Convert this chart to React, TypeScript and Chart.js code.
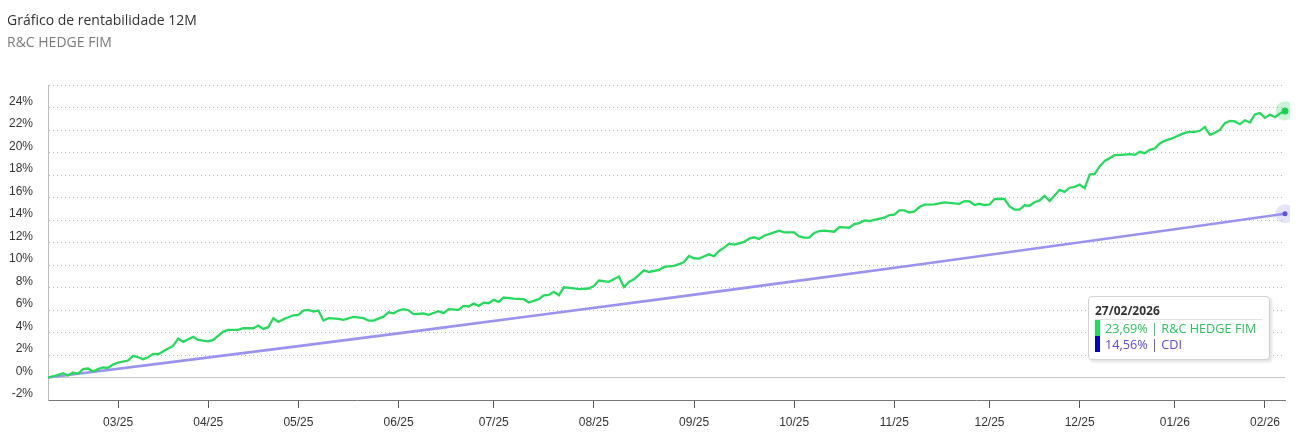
import React, { useEffect, useRef } from 'react';
import { Chart, registerables } from 'chart.js';

Chart.register(...registerables);

const chartTitle = 'Gráfico de rentabilidade 12M';
const fundName = 'R&C HEDGE FIM';
const benchName = 'CDI';
const lastDate = '27/02/2026';

// trading-day index (0 = 27/02/2025) and cumulative return in %
const fundDays = [
  0, 1, 3, 4, 5, 6, 7, 8, 9, 10,
  11, 12, 13, 14, 16, 17, 18, 19, 20, 21,
  22, 24, 25, 26, 27, 28, 29, 30, 32, 33,
  35, 36, 38, 39, 41, 42, 43, 44, 45, 46,
  47, 49, 50, 51, 52, 53, 54, 55, 56, 58,
  59, 61, 63, 64, 65, 67, 68, 69, 70, 71,
  72, 73, 75, 76, 78, 79, 80, 82, 83, 84,
  85, 86, 87, 88, 89, 90, 91, 93, 95, 96,
  98, 99, 100, 101, 102, 103, 105, 106, 108, 109,
  110, 112, 114, 115, 116, 117, 119, 120, 122, 123,
  125, 126, 127, 128, 129, 130, 132, 133, 134, 135,
  136, 137, 138, 139, 140, 141, 142, 143, 145, 146,
  147, 149, 150, 151, 152, 153, 154, 155, 157, 158,
  159, 160, 161, 162, 163, 164, 165, 167, 168, 169,
  170, 171, 172, 173, 174, 175, 177, 179, 181, 182,
  183, 184, 185, 186, 187, 188, 189, 190, 191, 192,
  193, 194, 195, 196, 197, 198, 199, 200, 201, 202,
  203, 204, 205, 206, 207, 208, 209, 210, 211, 212,
  213, 214, 215, 216, 217, 218, 219, 220, 221, 222,
  223, 224, 225, 226, 227, 228, 229, 230, 231, 232,
  233, 234, 235, 236, 237, 238, 239, 240, 241, 242,
  243, 244, 245, 246, 247,
];
const fundPct = [
  0, 0.09, 0.38, 0.18, 0.44, 0.33, 0.74, 0.80, 0.53, 0.74,
  0.89, 0.86, 1.15, 1.33, 1.51, 1.92, 1.80, 1.63, 1.80, 2.10,
  2.07, 2.57, 2.81, 3.46, 3.17, 3.40, 3.61, 3.34, 3.22, 3.34,
  4.08, 4.23, 4.23, 4.38, 4.38, 4.62, 4.32, 4.47, 5.27, 4.94,
  5.18, 5.53, 5.56, 5.95, 6.01, 5.86, 5.95, 5.06, 5.27, 5.21,
  5.12, 5.38, 5.27, 5.06, 5.06, 5.41, 5.80, 5.71, 5.95, 6.07,
  5.98, 5.63, 5.69, 5.57, 5.89, 5.72, 6.07, 6.01, 6.37, 6.31,
  6.57, 6.37, 6.66, 6.60, 6.90, 6.72, 7.11, 7.02, 6.96, 6.66,
  6.96, 7.31, 7.34, 7.61, 7.31, 8.02, 7.93, 7.85, 7.91, 8.14,
  8.62, 8.50, 8.97, 8.05, 8.50, 8.73, 9.53, 9.38, 9.56, 9.83,
  9.92, 10.07, 10.27, 10.80, 10.60, 10.57, 10.95, 10.78, 11.25, 11.54,
  11.90, 11.81, 11.92, 12.05, 12.34, 12.46, 12.31, 12.60, 12.90, 13.05,
  12.90, 12.90, 12.54, 12.43, 12.43, 12.84, 13.02, 13.05, 12.96, 13.37,
  13.34, 13.31, 13.64, 13.73, 13.96, 13.91, 14.02, 14.20, 14.44, 14.47,
  14.85, 14.85, 14.67, 14.76, 15.15, 15.36, 15.38, 15.56, 15.47, 15.44,
  15.68, 15.65, 15.33, 15.44, 15.33, 15.38, 15.86, 15.89, 15.85, 15.20,
  14.93, 14.93, 15.31, 15.27, 15.58, 15.74, 16.15, 15.68, 16.18, 16.68,
  16.50, 16.87, 16.95, 17.15, 16.82, 18.03, 18.09, 18.76, 19.25, 19.50,
  19.76, 19.79, 19.82, 19.85, 19.79, 20.06, 19.94, 20.24, 20.36, 20.80,
  21.04, 21.19, 21.36, 21.57, 21.75, 21.84, 21.84, 21.93, 22.28, 21.57,
  21.75, 22.01, 22.61, 22.81, 22.76, 22.52, 22.87, 22.67, 23.38, 23.50,
  23.08, 23.38, 23.14, 23.47, 23.69,
];

const cdiDays = [0, 25, 50, 75, 100, 125, 150, 175, 200, 225, 247];
const cdiPct = [0, 1.39, 2.79, 4.21, 5.66, 7.12, 8.61, 10.11, 11.64, 13.18, 14.56];

const tickDays = [14, 32, 50, 70, 89, 109, 129, 149, 169, 188, 206, 225, 243];
const tickLabels = ['03/25', '04/25', '05/25', '06/25', '07/25', '08/25', '09/25', '10/25', '11/25', '12/25', '12/25', '01/26', '02/26'];

const yMin = -2;
const yMax = 26;
const yStep = 2;
const firstDay = 0;
const lastDay = 247;

const GREEN = '#27d95c';
const PURPLE = '#9b93f0';
const HALO = ['rgba(39,217,92,0.25)', 'rgba(155,147,240,0.25)'];
const DOT = ['#1fcf52', '#5d52e6'];
const DOT_R = [3.5, 2.5];

const fmt = (v: number) => v.toFixed(2).replace('.', ',') + '%';

const haloPlugin = {
  id: 'lastPointHalo',
  afterDatasetsDraw(chart: any) {
    const ctx = chart.ctx;
    chart.data.datasets.forEach((_ds: any, i: number) => {
      const meta = chart.getDatasetMeta(i);
      const el = meta.data[meta.data.length - 1];
      if (!el) return;
      const { x, y } = el.getProps(['x', 'y'], true);
      ctx.save();
      ctx.beginPath();
      ctx.arc(x, y, 9.5, 0, Math.PI * 2);
      ctx.fillStyle = HALO[i];
      ctx.fill();
      ctx.beginPath();
      ctx.arc(x, y, DOT_R[i], 0, Math.PI * 2);
      ctx.fillStyle = DOT[i];
      ctx.fill();
      ctx.restore();
    });
  },
};

const tickFont = { family: '"Liberation Sans", Arial, sans-serif', size: 12 };

export default function App() {
  const canvasRef = useRef<HTMLCanvasElement | null>(null);

  useEffect(() => {
    const canvas = canvasRef.current;
    if (!canvas) return;
    const chart = new Chart(canvas, {
      type: 'line',
      data: {
        datasets: [
          {
            label: fundName,
            data: fundDays.map((d, i) => ({ x: d, y: fundPct[i] })),
            borderColor: GREEN,
            backgroundColor: GREEN,
            borderWidth: 2.3,
            pointRadius: 0,
            tension: 0,
            fill: false,
          },
          {
            label: benchName,
            data: cdiDays.map((d, i) => ({ x: d, y: cdiPct[i] })),
            borderColor: PURPLE,
            backgroundColor: PURPLE,
            borderWidth: 2.6,
            pointRadius: 0,
            tension: 0,
            fill: false,
          },
        ],
      },
      options: {
        animation: false,
        responsive: false,
        events: [],
        layout: { padding: { top: 77, right: 5, left: 0, bottom: 0 } },
        plugins: {
          legend: { display: false },
          tooltip: { enabled: false },
          title: { display: false },
        },
        scales: {
          x: {
            type: 'linear',
            min: firstDay,
            max: lastDay,
            afterBuildTicks: (s: any) => {
              s.ticks = tickDays.map((v) => ({ value: v }));
            },
            afterFit: (s: any) => {
              s.height = 29;
            },
            grid: { drawOnChartArea: false, drawTicks: true, tickLength: 8, color: '#555' },
            border: { display: true, color: '#777', width: 1 },
            ticks: {
              autoSkip: false,
              maxRotation: 0,
              padding: 7,
              color: '#333',
              font: tickFont,
              callback: (v: any) => {
                const i = tickDays.indexOf(v);
                return i >= 0 ? tickLabels[i] : '';
              },
            },
          },
          y: {
            min: yMin,
            max: yMax,
            afterFit: (s: any) => {
              s.width = 40;
            },
            ticks: {
              stepSize: yStep,
              padding: 15,
              labelOffset: -6,
              color: '#333',
              font: tickFont,
              callback: (v: any) => (v === yMax ? '' : v + '%'),
            },
            grid: {
              drawTicks: false,
              color: (c: any) =>
                c.tick && c.tick.value === yMin ? 'rgba(0,0,0,0)' : c.tick && c.tick.value === 0 ? '#c4c4c4' : '#b8b8b8',
            },
            border: {
              display: true,
              color: '#bdbdbd',
              width: 1,
              dash: (c: any) => (c.tick && c.tick.value === 0 ? [] : [1, 3]),
            },
          },
        },
      } as any,
      plugins: [haloPlugin],
    });
    return () => chart.destroy();
  }, []);

  const lastFund = fundPct[fundPct.length - 1];
  const lastCdi = cdiPct[cdiPct.length - 1];

  return (
    <div style={{ position: 'relative', width: 1282, height: 421, fontFamily: '"Open Sans", sans-serif' }}>
      <canvas ref={canvasRef} width={1282} height={421} style={{ display: 'block', width: 1282, height: 421 }} />
      <div style={{ position: 'absolute', left: -1, top: 2, fontSize: 14, color: '#333', whiteSpace: 'nowrap' }}>{chartTitle}</div>
      <div style={{ position: 'absolute', left: -1, top: 24, fontSize: 14, color: '#7a7a7a', whiteSpace: 'nowrap' }}>{fundName}</div>
      <div
        style={{
          position: 'absolute',
          left: 1080,
          top: 288,
          width: 182,
          boxSizing: 'border-box',
          background: '#fff',
          border: '1px solid #d2d2d2',
          borderRadius: 4,
          boxShadow: '2px 2px 3px rgba(0,0,0,0.12)',
          padding: '6px 7px 7px 6px',
          fontSize: 12,
          whiteSpace: 'nowrap',
        }}
      >
        <div style={{ fontWeight: 700, color: '#333', lineHeight: '16px', borderBottom: '1px solid #e2e2e2' }}>{lastDate}</div>
        <div style={{ display: 'flex', alignItems: 'center', height: 16, lineHeight: '16px', fontSize: 12.7 }}>
          <span style={{ display: 'inline-block', width: 5, height: 16, background: '#22dd55', marginRight: 5 }} />
          <span style={{ color: '#2cc25a' }}>{fmt(lastFund)} | {fundName}</span>
        </div>
        <div style={{ display: 'flex', alignItems: 'center', height: 16, lineHeight: '16px', fontSize: 12.7 }}>
          <span style={{ display: 'inline-block', width: 5, height: 16, background: '#0000cc', marginRight: 5 }} />
          <span style={{ color: '#6446d4' }}>{fmt(lastCdi)} | {benchName}</span>
        </div>
      </div>
    </div>
  );
}
